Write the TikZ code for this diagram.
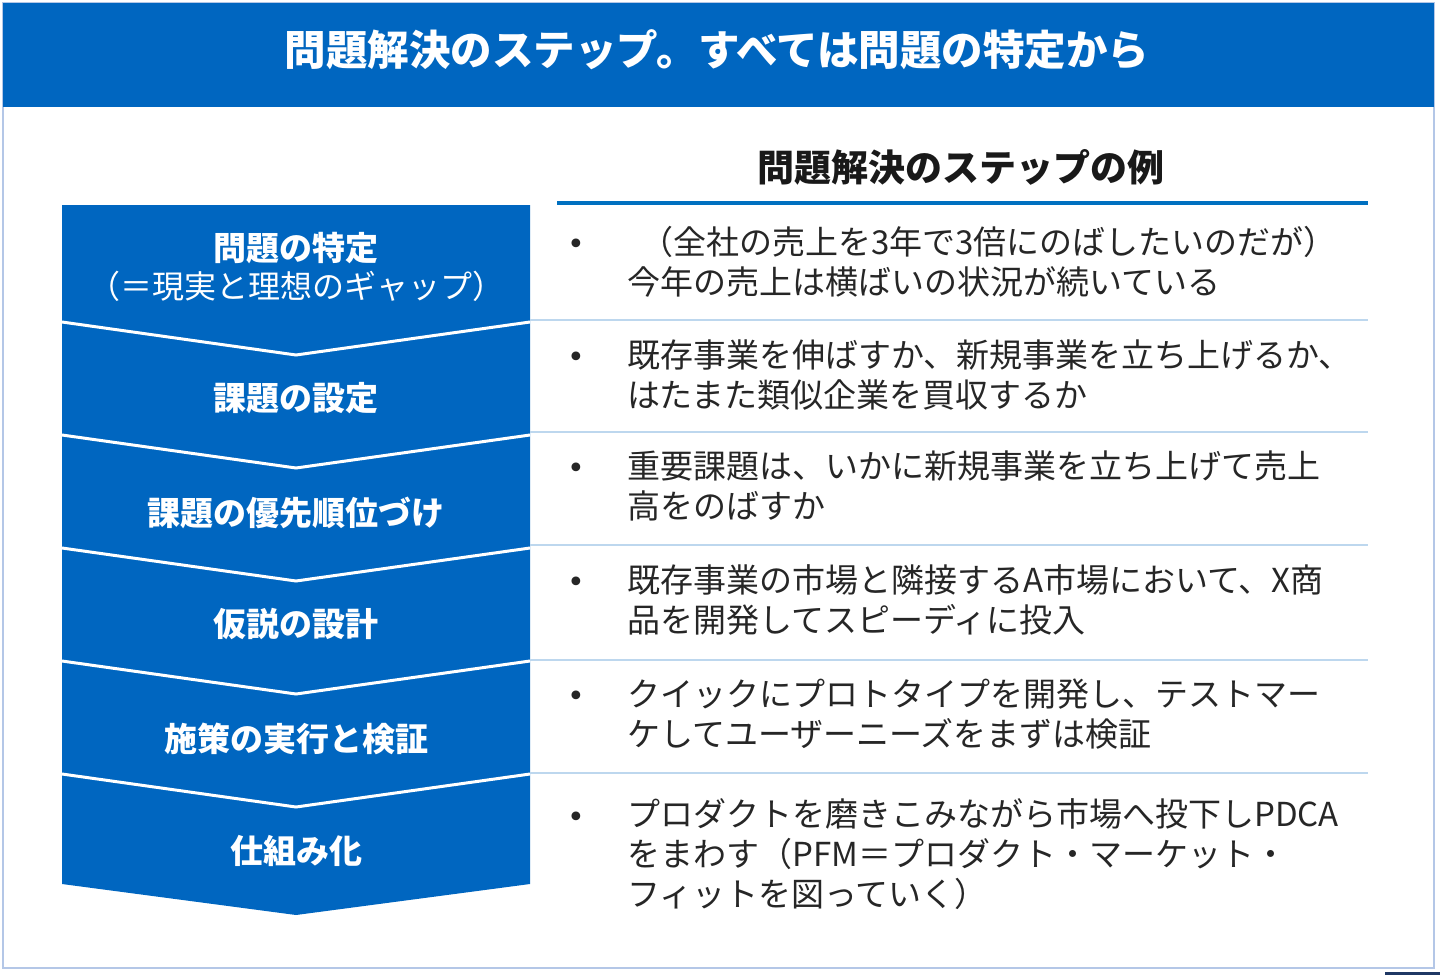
\documentclass[tikz,border=0pt]{standalone}
\usepackage{fontspec}
\setmainfont{Noto Sans CJK JP}
\newfontfamily\dotfont{DejaVu Sans}
\usepackage{xcolor}
\usepackage{tikz}
\usetikzlibrary{positioning,calc}

\definecolor{hdrblue}{HTML}{0066C0}
\definecolor{lineblue}{HTML}{0070C0}
\definecolor{seplight}{HTML}{BDD7EE}
\definecolor{framegray}{HTML}{B4C7E7}
\definecolor{navy}{HTML}{1F3864}

\begin{document}
\begin{tikzpicture}[
  x=1pt, y=-1pt,
  title/.style={font=\fontsize{41.5}{48}\selectfont\bfseries, text=white, inner sep=0pt},
  colhead/.style={font=\fontsize{37}{42}\selectfont\bfseries, text=black!90, inner sep=0pt},
  stepname/.style={font=\fontsize{33}{40}\selectfont\bfseries, text=white, align=center,
    inner sep=0pt},
  example/.style={font=\fontsize{33}{40}\selectfont, text=black!85, align=left,
    anchor=west, inner sep=0pt},
  dot/.style={font=\dotfont\fontsize{30}{34}\selectfont, text=black!85, inner sep=0pt},
  sep/.style={draw=seplight, line width=2.5pt},
  cut/.style={draw=white, line width=3pt}
]
\useasboundingbox (0,0) rectangle (1440,975);
% Frame and title band
\draw[framegray, line width=2pt] (3,3) rectangle (1434,968);
\fill[hdrblue] (3,3) rectangle (1434,107);
\node[title] (ttl) at (717,50) {問題解決のステップ。すべては問題の特定から};
\fill[navy] (1385,972) rectangle (1440,975);
% Chevron column
\fill[hdrblue] (62,205) -- (530,205) -- (530,884) -- (296,915) -- (62,884) -- cycle;
\draw[cut] (62,322) -- (296,355) -- (530,322);
\draw[cut] (62,435) -- (296,468) -- (530,435);
\draw[cut] (62,548) -- (296,581) -- (530,548);
\draw[cut] (62,661) -- (296,694) -- (530,661);
\draw[cut] (62,774) -- (296,807) -- (530,774);
% Step names
\node[stepname] (s1) at (296,267)
  {問題の特定\\[-2pt]{\mdseries\fontsize{32}{38}\selectfont （＝現実と理想のギャップ）}};
\node[stepname] (s2) at (296,398) {課題の設定};
\node[stepname] (s3) at (296,513) {課題の優先順位づけ};
\node[stepname] (s4) at (296,624) {仮説の設計};
\node[stepname] (s5) at (296,739) {施策の実行と検証};
\node[stepname] (s6) at (296,851) {仕組み化};
% Example column
\node[colhead] (head) at (961,167) {問題解決のステップの例};
\draw[lineblue, line width=4pt] (557,203) -- (1368,203);
\draw[sep] (530,320) -- (1368,320);
\draw[sep] (530,432) -- (1368,432);
\draw[sep] (530,545) -- (1368,545);
\draw[sep] (530,660) -- (1368,660);
\draw[sep] (530,773) -- (1368,773);
% Examples
\node[example] (e1) at (627,262)
  {\hspace{13pt}（全社の売上を3年で3倍にのばしたいのだが）\\今年の売上は横ばいの状況が続いている};
\node[dot] (b1) at (576,247) {•};
\node[example] (e2) at (627,375)
  {既存事業を伸ばすか、新規事業を立ち上げるか、\\はたまた類似企業を買収するか};
\node[dot] (b2) at (576,360) {•};
\node[example] (e3) at (627,486)
  {重要課題は、いかに新規事業を立ち上げて売上\\高をのばすか};
\node[dot] (b3) at (576,471) {•};
\node[example] (e4) at (627,600)
  {既存事業の市場と隣接するA市場において、X商\\品を開発してスピーディに投入};
\node[dot] (b4) at (576,585) {•};
\node[example] (e5) at (627,714)
  {クイックにプロトタイプを開発し、テストマー\\ケしてユーザーニーズをまずは検証};
\node[dot] (b5) at (576,699) {•};
\node[example] (e6) at (627,854)
  {プロダクトを磨きこみながら市場へ投下しPDCA\\をまわす（PFM＝プロダクト・マーケット・\\フィットを図っていく）};
\node[dot] (b6) at (576,820) {•};
\end{tikzpicture}
\end{document}
